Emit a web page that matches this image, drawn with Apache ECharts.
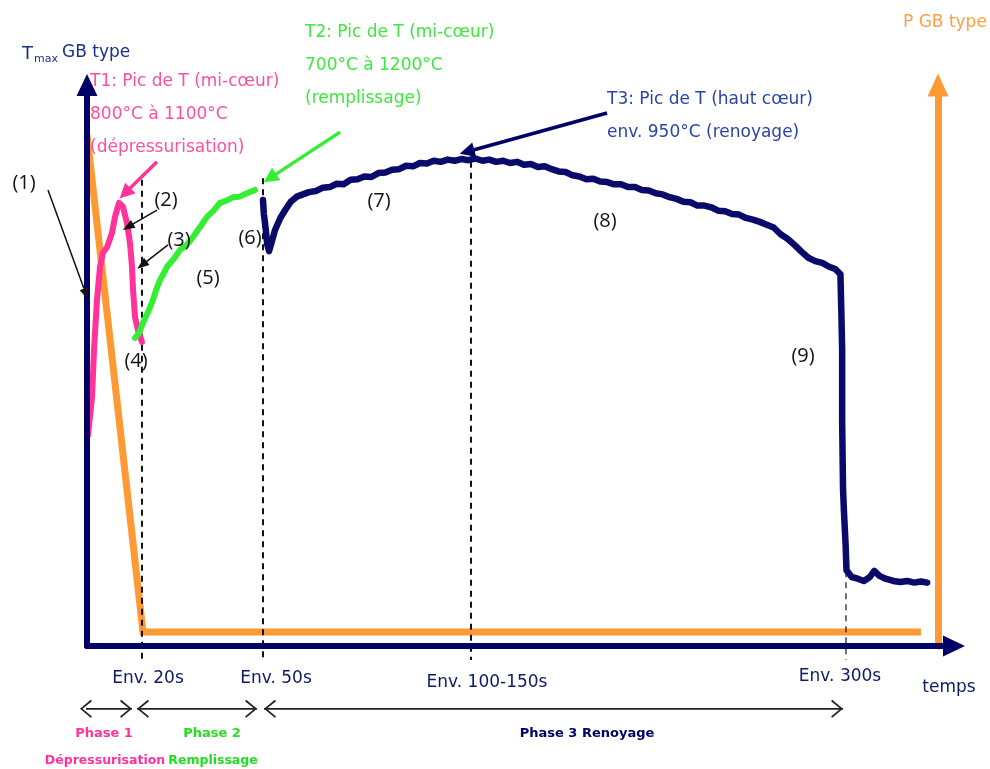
<!DOCTYPE html>
<html><head><meta charset="utf-8">
<script src="https://cdn.jsdelivr.net/npm/echarts@6/dist/echarts.min.js"></script>
<style>html,body{margin:0;padding:0;background:#fff}#c{width:990px;height:769px}</style>
</head><body><div id="c"></div>
<script>
// ---- schematic data (x: schematic time scale 0..100, y: relative level 0..100) ----
const pinkT1 = [[0.12,37.6],[0.58,44.4],[0.81,52.8],[1.15,61.7],[1.5,67.6],[1.85,70.1],[2.31,71.1],[2.88,73.6],[3.23,76.5],[3.69,79.0],[3.92,79.1],[4.15,78.3],[4.61,75.4],[4.96,71.8],[5.19,67.6],[5.31,63.5],[5.54,58.6],[5.88,56.3],[6.34,54.2]];
const greenT2 = [[5.54,54.9],[6.0,55.8],[6.46,57.6],[7.0,59.4],[7.61,61.7],[8.0,63.6],[8.42,65.2],[9.23,67.6],[10.0,69.0],[10.73,70.6],[11.5,71.5],[12.23,72.9],[13.0,74.6],[13.84,76.5],[14.6,77.6],[15.34,79.0],[16.1,79.4],[16.84,80.0],[17.6,80.1],[18.45,80.7],[19.38,81.3]];
const navyT3 = [[20.3,79.5],[20.4,77],[20.6,74.5],[20.8,71.5],[21.0,70.4],[21.3,72.0],[21.7,74.2],[22.3,76.3],[22.9,77.8],[23.5,79.2],[24.2,80.1],[24.9,80.5],[25.6,80.9],[26.4,81.1],[27.2,81.7],[28.0,81.8],[28.8,82.4],[29.6,82.3],[30.4,83.1],[31.2,83.2],[32.0,83.7],[32.8,83.6],[33.6,84.3],[34.4,84.4],[35.2,84.9],[36.0,85.0],[36.8,85.6],[37.6,85.5],[38.4,86.1],[39.2,86.0],[40.0,86.5],[40.8,86.3],[41.6,86.7],[42.4,86.5],[43.2,86.8],[44.0,86.6],[44.8,86.9],[45.6,86.5],[46.4,86.7],[47.2,86.3],[48.0,86.5],[48.8,86.1],[49.6,86.3],[50.4,85.8],[51.2,85.9],[52.0,85.4],[52.8,85.5],[53.6,85.0],[54.4,84.6],[55.2,84.5],[56.0,83.9],[56.8,83.7],[57.6,83.2],[58.4,83.3],[59.2,82.8],[60.0,82.7],[60.8,82.3],[61.6,82.3],[62.4,81.8],[63.2,81.8],[64.0,81.3],[64.8,81.2],[65.6,80.7],[66.4,80.5],[67.2,80.0],[68.0,79.7],[68.8,79.2],[69.6,79.1],[70.4,78.5],[71.2,78.5],[72.0,78.2],[72.8,77.6],[73.6,77.5],[74.4,77.0],[75.2,76.9],[76.0,76.3],[76.8,76.0],[77.6,75.6],[78.4,75.1],[79.2,74.6],[80.0,73.4],[80.8,72.6],[81.6,71.5],[82.4,70.3],[83.2,69.2],[84.0,68.6],[84.8,68.3],[85.6,67.6],[86.3,67.2],[86.9,66.3],[87.0,60],[87.1,52.8],[87.1,40],[87.2,28],[87.3,24.2],[87.5,18],[87.6,13.5],[88.2,12.3],[88.9,12.0],[89.6,11.6],[90.3,12.3],[90.8,13.4],[91.4,12.5],[92.1,12.0],[93.0,11.6],[93.8,11.4],[94.6,11.6],[95.4,11.3],[96.2,11.5],[96.9,11.3]];
const orangeP = [[0,91.1],[6.46,2.5],[96.19,2.5]];

const tickLabels = ['Env. 20s','Env. 50s','Env. 100-150s','Env. 300s'];
const tickValues = [6.34, 20.3, 44.29, 87.54];
const dashTops = [83.1, 83.4, 86.3, 25.1];
const dashBottom = -2.5;

const phaseNames = ['Phase 1','Phase 2','Phase 3 Renoyage'];
const phaseSub = ['Dépressurisation','Remplissage',''];
const phaseSpans = [[-0.81,5.19],[5.77,19.61],[20.42,87.2]];
const phaseLevel = -11.2;

const stepLabels = ['(1)','(2)','(3)','(4)','(5)','(6)','(7)','(8)','(9)'];
const arrowOneFrom = [-4.5,81.3], arrowOneTo = [0.12,61.7];

// ---- styles ----
const NAVY = '#000066', PINK = '#ff3399', GREEN = '#33ee33', ORANGE = '#ff9933';
const FONT = '"DejaVu Sans", sans-serif';
const chevron = 'path://M0,12 L10,0 L20,12 L18.4,13.3 L10,2.9 L1.6,13.3 Z';

const chart = echarts.init(document.getElementById('c'), null, {renderer:'canvas'});

const series = [];
series.push({type:'line', data:orangeP, showSymbol:false, silent:true, animation:false, z:1,
  lineStyle:{color:ORANGE, width:7, cap:'butt', join:'miter'}});
tickValues.forEach((v,i)=>{
  series.push({type:'line', clip:false, showSymbol:false, silent:true, animation:false, z:1,
    data:[[v,dashTops[i]],[v,dashBottom]],
    lineStyle:{color:'#111', width: i===3 ? 1.2 : 2, type:[6,5]}});
});
series.push({type:'line', data:pinkT1, showSymbol:false, silent:true, animation:false, z:2,
  lineStyle:{color:PINK, width:6, cap:'round', join:'round'}});
series.push({type:'line', data:greenT2, showSymbol:false, silent:true, animation:false, z:2,
  lineStyle:{color:GREEN, width:6, cap:'round', join:'round'}});
series.push({type:'line', data:navyT3, showSymbol:false, silent:true, animation:false, z:2,
  lineStyle:{color:'#0a0a6a', width:6.5, cap:'round', join:'round'},
  markLine:{silent:true, animation:false, symbol:['none','triangle'], symbolSize:[9,12],
    label:{show:false},
    data:[
      [{coord:[8.07,77.7], lineStyle:{color:'#111', width:1.5, type:'solid'}},{coord:[4.73,74.7]}],
      [{coord:[9.34,71.5], lineStyle:{color:'#111', width:1.5, type:'solid'}},{coord:[6.34,67.9]}],
      [{coord:[8.07,86.3], lineStyle:{color:PINK, width:3.5, type:'solid'}},{coord:[4.38,80.7], symbolSize:[15,15]}],
      [{coord:[29.18,91.6], lineStyle:{color:GREEN, width:3.5, type:'solid'}},{coord:[21.1,83.4], symbolSize:[15,15]}],
      [{coord:[59.98,95.0], lineStyle:{color:NAVY, width:3.5, type:'solid'}},{coord:[43.83,88.1], symbolSize:[15,15]}]
    ]}});
phaseSpans.forEach(([a,b])=>{
  series.push({type:'line', clip:false, silent:true, animation:false, z:3, showSymbol:true,
    lineStyle:{color:'#222', width:1.6}, itemStyle:{color:'#222'},
    data:[{value:[a,phaseLevel], symbol:chevron, symbolSize:[18,12], symbolRotate:90, symbolOffset:[6,0]},
          {value:[b,phaseLevel], symbol:chevron, symbolSize:[18,12], symbolRotate:-90, symbolOffset:[-6,0]}]});
});

function txt(s, x, y, color, size, align, weight, family){
  return {type:'text', x:x, y:y, silent:true, z:10,
    style:{text:s, fill:color, font:(weight||'normal')+' '+size+'px '+(family||FONT), textAlign:align||'left', textVerticalAlign:'middle'}};
}
const PINKT = '#ff4fa0', GREENT = '#3ee83e', BLUET = '#2a44a8', ENV = '#0d1a66';
const NUMFONT = '"Open Sans", sans-serif';
const graphic = [
  txt('T', 22, 54, '#1a2f8c', 18),
  txt('max', 34, 59, '#1a2f8c', 11),
  txt('GB type', 62, 53, '#1a2f8c', 17),
  txt('T1: Pic de T (mi-cœur)', 90, 82, PINKT, 17),
  txt('800°C à 1100°C', 90, 115, PINKT, 17),
  txt('(dépressurisation)', 90, 148, PINKT, 17),
  txt('T2: Pic de T (mi-cœur)', 305, 33, GREENT, 17),
  txt('700°C à 1200°C', 305, 66, GREENT, 17),
  txt('(remplissage)', 305, 99, GREENT, 17),
  txt('T3: Pic de T (haut cœur)', 607, 100, BLUET, 17),
  txt('env. 950°C (renoyage)', 607, 133, BLUET, 17),
  txt('P GB type', 903, 23, '#ff9f40', 17),
  txt(stepLabels[0], 24, 183, '#111', 20, 'center', 'normal', NUMFONT),
  txt(stepLabels[1], 166, 200, '#111', 20, 'center', 'normal', NUMFONT),
  txt(stepLabels[2], 179, 240, '#111', 20, 'center', 'normal', NUMFONT),
  txt(stepLabels[3], 136, 361, '#111', 20, 'center', 'normal', NUMFONT),
  txt(stepLabels[4], 208, 278, '#111', 20, 'center', 'normal', NUMFONT),
  txt(stepLabels[5], 250, 238, '#111', 20, 'center', 'normal', NUMFONT),
  txt(stepLabels[6], 379, 201, '#111', 20, 'center', 'normal', NUMFONT),
  txt(stepLabels[7], 605, 221, '#111', 20, 'center', 'normal', NUMFONT),
  txt(stepLabels[8], 803, 356, '#111', 20, 'center', 'normal', NUMFONT),
  txt(tickLabels[0], 148, 679, ENV, 17, 'center'),
  txt(tickLabels[1], 276, 679, ENV, 17, 'center'),
  txt(tickLabels[2], 487, 683, ENV, 17, 'center'),
  txt(tickLabels[3], 840, 677, ENV, 17, 'center'),
  txt('temps', 949, 688, ENV, 17, 'center'),
  txt(phaseNames[0], 104, 734, PINK, 13, 'center', 'bold'),
  txt(phaseNames[1], 212, 734, '#22dd22', 13, 'center', 'bold'),
  txt(phaseNames[2], 587, 734, NAVY, 13, 'center', 'bold'),
  txt(phaseSub[0], 105, 761, PINK, 12.5, 'center', 'bold'),
  txt(phaseSub[1], 213, 761, '#22dd22', 12.5, 'center', 'bold')
];

chart.setOption({
  animation:false,
  backgroundColor:'#ffffff',
  grid:{left:87, right:36, top:85, bottom:123, containLabel:false},
  xAxis:{type:'value', min:0, max:100, z:3,
    axisLine:{show:true, onZero:false, lineStyle:{color:NAVY, width:6}, symbol:['none','triangle'], symbolSize:[21,22]},
    axisTick:{show:false}, axisLabel:{show:false}, splitLine:{show:false}},
  yAxis:[
    {type:'value', min:0, max:100, position:'left', z:3,
      axisLine:{show:true, onZero:false, lineStyle:{color:NAVY, width:6}, symbol:['none','triangle'], symbolSize:[21,22]},
      axisTick:{show:false}, axisLabel:{show:false}, splitLine:{show:false}},
    {type:'value', min:0, max:100, position:'right', offset:-16, z:2,
      axisLine:{show:true, onZero:false, lineStyle:{color:ORANGE, width:7}, symbol:['none','triangle'], symbolSize:[21,23]},
      axisTick:{show:false}, axisLabel:{show:false}, splitLine:{show:false}}
  ],
  series:series,
  graphic:graphic
});

// annotation arrow (1): starts left of the plotting area, placed through the axis scales
const p0 = chart.convertToPixel({gridIndex:0}, arrowOneFrom);
const p1 = chart.convertToPixel({gridIndex:0}, arrowOneTo);
const ang = Math.atan2(p1[1]-p0[1], p1[0]-p0[0]);
const hl = 12, hw = 4.5;
const bx = p1[0] - hl*Math.cos(ang), by = p1[1] - hl*Math.sin(ang);
graphic.push({type:'line', silent:true, z:9, shape:{x1:p0[0], y1:p0[1], x2:bx, y2:by}, style:{stroke:'#111', lineWidth:1.5}});
graphic.push({type:'polygon', silent:true, z:9, shape:{points:[[p1[0],p1[1]],[bx - hw*Math.sin(ang), by + hw*Math.cos(ang)],[bx + hw*Math.sin(ang), by - hw*Math.cos(ang)]]}, style:{fill:'#111'}});
chart.setOption({graphic:graphic});
</script></body></html>
